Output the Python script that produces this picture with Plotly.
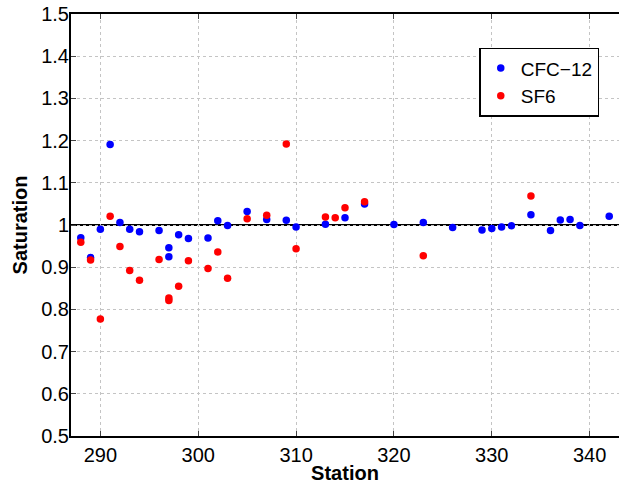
import plotly.graph_objects as go

cfc_station = [288, 289, 290, 291, 292, 293, 294, 296, 297, 297, 298, 299, 301, 302, 303, 305,
               307, 309, 310, 313, 315, 317, 320, 323, 326, 329, 330, 331, 332, 334, 336, 337,
               338, 339, 342]
cfc_sat = [0.970, 0.923, 0.990, 1.191, 1.006, 0.990, 0.984, 0.987, 0.946, 0.925, 0.977, 0.968,
           0.969, 1.010, 0.999, 1.032, 1.013, 1.011, 0.995, 1.002, 1.017, 1.050, 1.001, 1.006,
           0.994, 0.988, 0.992, 0.995, 0.998, 1.024, 0.987, 1.012, 1.013, 0.999, 1.021]

sf6_station = [288, 289, 290, 291, 292, 293, 294, 296, 297, 297, 298, 299, 301, 302, 303, 305,
               307, 309, 310, 313, 314, 315, 317, 323, 334]
sf6_sat = [0.959, 0.917, 0.777, 1.021, 0.949, 0.892, 0.869, 0.918, 0.827, 0.821, 0.855, 0.915,
           0.897, 0.936, 0.874, 1.015, 1.023, 1.192, 0.944, 1.019, 1.017, 1.041, 1.055, 0.927,
           1.069]

x_ticks = [290, 300, 310, 320, 330, 340]
y_ticks = [0.5, 0.6, 0.7, 0.8, 0.9, 1.0, 1.1, 1.2, 1.3, 1.4, 1.5]
y_ticklabels = ["0.5", "0.6", "0.7", "0.8", "0.9", "1", "1.1", "1.2", "1.3", "1.4", "1.5"]

font = "Liberation Sans"

fig = go.Figure()
fig.add_trace(go.Scatter(x=cfc_station, y=cfc_sat, mode="markers", name="CFC\u221212",
                         marker=dict(color="#0000ff", size=7.5)))
fig.add_trace(go.Scatter(x=sf6_station, y=sf6_sat, mode="markers", name="SF6",
                         marker=dict(color="#ff0000", size=7.5)))

fig.add_shape(type="line", xref="paper", x0=0, x1=1, yref="y", y0=1, y1=1,
              line=dict(color="black", width=2), layer="between")

fig.update_layout(
    width=619, height=484,
    margin=dict(l=71, r=0, t=14, b=48),
    plot_bgcolor="white", paper_bgcolor="white",
    font=dict(family=font, size=20, color="black"),
    showlegend=True,
    legend=dict(x=0.745, y=0.92, xanchor="left", yanchor="top",
                bordercolor="black", borderwidth=1.5, bgcolor="white",
                font=dict(size=19), itemwidth=30, tracegroupgap=0),
    xaxis=dict(range=[287, 343], tickvals=x_ticks, ticks="inside", ticklen=5,
               tickfont=dict(size=20),
               showline=True, linecolor="black", linewidth=2, mirror="ticks",
               showgrid=True, gridcolor="#c4c4c4", griddash="dot", gridwidth=1,
               zeroline=False,
               title=dict(text="<b>Station</b>", font=dict(size=20), standoff=0)),
    yaxis=dict(range=[0.5, 1.5], tickvals=y_ticks, ticktext=y_ticklabels,
               ticks="inside", ticklen=5, tickfont=dict(size=20), ticklabelstandoff=-4,
               showline=True, linecolor="black", linewidth=2, mirror=False,
               showgrid=True, gridcolor="#c4c4c4", griddash="dot", gridwidth=1,
               zeroline=False,
               title=dict(text="<b>Saturation</b>", font=dict(size=20), standoff=8)),
)

fig.write_html("out.html")
